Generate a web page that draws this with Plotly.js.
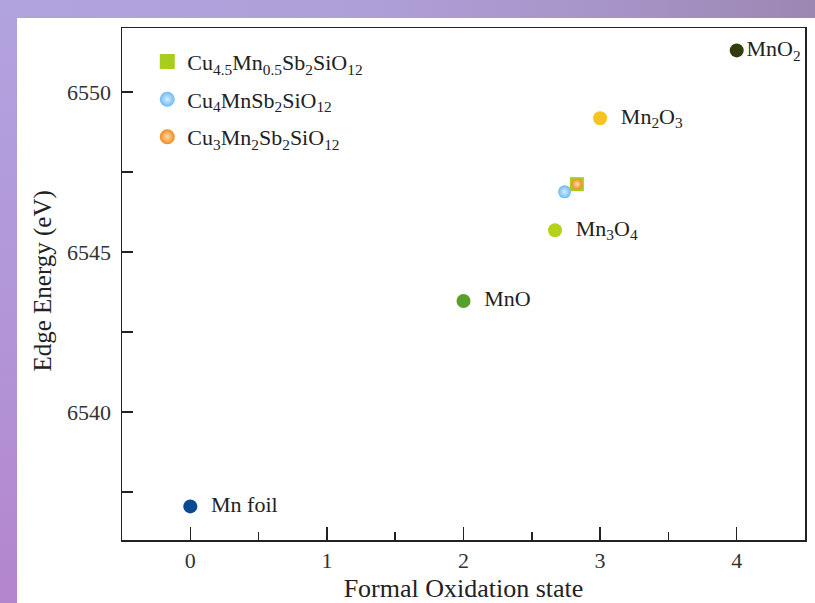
<!DOCTYPE html>
<html>
<head>
<meta charset="utf-8">
<script src="https://cdn.plot.ly/plotly-3.0.1.min.js"></script>
<style>
html,body{margin:0;padding:0;width:815px;height:603px;overflow:hidden;background:#b09ed8;}
#topbar{position:absolute;left:0;top:0;width:815px;height:18px;background:linear-gradient(to right,#b1a3de 0%,#ae9fd8 45%,#a794c6 75%,#9c87b3 100%);}
#leftbar{position:absolute;left:0;top:0;width:17px;height:603px;background:linear-gradient(to bottom,#b1a3de 0%,#b296d8 50%,#b385cd 100%);}
#chart{position:absolute;left:17px;top:18px;width:798px;height:585px;background:#fff;}
</style>
</head>
<body>
<div id="topbar"></div>
<div id="leftbar"></div>
<div id="chart"></div>
<script>
// Reference oxides
const refNames = ['Mn foil', 'MnO', 'Mn<sub>3</sub>O<sub>4</sub>', 'Mn<sub>2</sub>O<sub>3</sub>', 'MnO<sub>2</sub>'];
const refX = [0, 2, 2.67, 3, 4];
const refY = [6537.05, 6543.47, 6545.68, 6549.18, 6551.3];
const refColors = ['#0b4a93', '#57a02a', '#b6d11c', '#f6c41e', '#2f3d0f'];

// Samples
const sampleNames = ['Cu<sub>4.5</sub>Mn<sub>0.5</sub>Sb<sub>2</sub>SiO<sub>12</sub>', 'Cu<sub>4</sub>MnSb<sub>2</sub>SiO<sub>12</sub>', 'Cu<sub>3</sub>Mn<sub>2</sub>Sb<sub>2</sub>SiO<sub>12</sub>'];
const sampleX = [2.83, 2.74, 2.83];
const sampleY = [6547.12, 6546.88, 6547.12];
const sampleColors = ['#a9cd1c', '#6db9f0', '#f28a1c'];

// styling (not data)
const labelPad = ['&nbsp;&nbsp;', '&nbsp;&nbsp;', '&nbsp;&nbsp;', '&nbsp;&nbsp;', ''];
const sampleSymbols = ['square', 'circle', 'circle'];
const sampleSizes = [14, 13, 11];
const sampleGlow = [null, '#d4eeff', '#ffdcae'];

const serif = 'Liberation Serif, Times New Roman, serif';
const traces = [];
for (let i = 0; i < refNames.length; i++) {
  traces.push({
    type: 'scatter', mode: 'markers+text',
    x: [refX[i]], y: [refY[i]], text: [labelPad[i] + refNames[i]],
    textposition: 'middle right',
    textfont: {family: serif, size: 22, color: '#222'},
    marker: {size: 14, color: refColors[i], line: {width: 0}},
    showlegend: false, hoverinfo: 'skip'
  });
}
for (let i = 0; i < sampleNames.length; i++) {
  const m = {size: sampleSizes[i], color: sampleColors[i], symbol: sampleSymbols[i], line: {width: 0}};
  if (sampleGlow[i]) m.gradient = {type: 'radial', color: sampleGlow[i]};
  traces.push({
    type: 'scatter', mode: 'markers',
    x: [sampleX[i]], y: [sampleY[i]], name: sampleNames[i],
    marker: m, showlegend: false, hoverinfo: 'skip'
  });
}
// legend entries (same styling, uniform size)
for (let i = 0; i < sampleNames.length; i++) {
  const m = {size: 15, color: sampleColors[i], symbol: sampleSymbols[i], line: {width: 0}};
  if (sampleGlow[i]) m.gradient = {type: 'radial', color: sampleGlow[i]};
  traces.push({
    type: 'scatter', mode: 'markers',
    x: [null], y: [null], name: sampleNames[i], legendgroup: 'g' + i,
    marker: m, showlegend: true, hoverinfo: 'skip'
  });
}

const layout = {
  width: 798, height: 585,
  margin: {l: 105, r: 10, t: 10, b: 63},
  paper_bgcolor: '#ffffff', plot_bgcolor: '#ffffff',
  font: {family: serif, color: '#222'},
  showlegend: true,
  legend: {x: 0.037, y: 0.975, xanchor: 'left', yanchor: 'top', bgcolor: 'rgba(0,0,0,0)',
           font: {family: serif, size: 22, color: '#222'}, tracegroupgap: 6, traceorder: 'grouped'},
  xaxis: {
    range: [-0.5, 4.5], dtick: 1, tick0: 0,
    ticks: 'inside', ticklen: 13, tickwidth: 1.5, tickcolor: '#222',
    minor: {dtick: 0.5, ticks: 'inside', ticklen: 8, tickwidth: 1.5, tickcolor: '#222'},
    showline: true, linecolor: '#222', linewidth: 1.5, mirror: true,
    showgrid: false, zeroline: false,
    tickfont: {family: serif, size: 22, color: '#333'},
    title: {text: 'Formal Oxidation state', font: {family: serif, size: 26, color: '#222'}, standoff: 10}
  },
  yaxis: {
    range: [6536, 6552], dtick: 5, tick0: 6540,
    ticks: 'inside', ticklen: 11, tickwidth: 1.5, tickcolor: '#222',
    minor: {dtick: 2.5, ticks: 'inside', ticklen: 11, tickwidth: 1.5, tickcolor: '#222'},
    showline: true, linecolor: '#222', linewidth: 1.5, mirror: true,
    showgrid: false, zeroline: false, ticklabelstandoff: 5,
    tickfont: {family: serif, size: 22, color: '#333'},
    title: {text: '&nbsp;Edge Energy (eV)', font: {family: serif, size: 25, color: '#222'}, standoff: 8}
  }
};
Plotly.newPlot('chart', traces, layout, {displayModeBar: false, staticPlot: true});
</script>
</body>
</html>
